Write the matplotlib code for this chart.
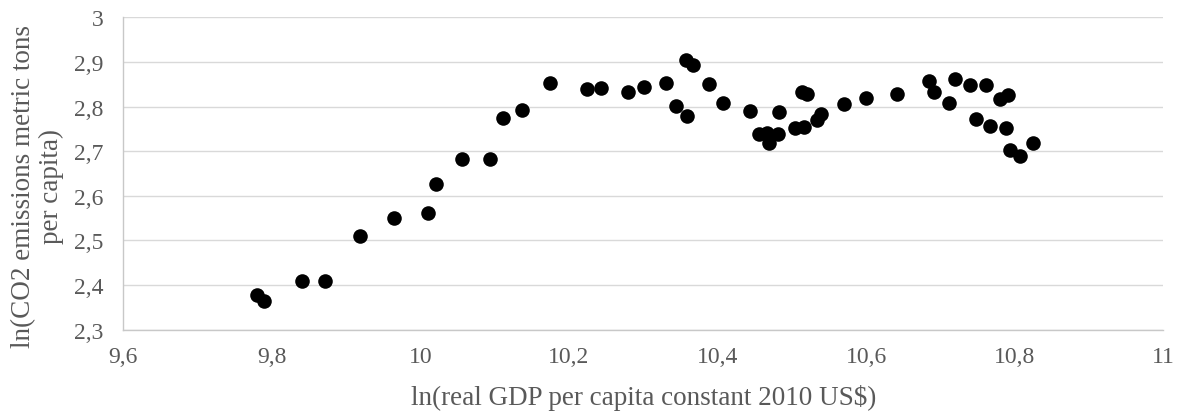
import matplotlib
matplotlib.use("Agg")
import matplotlib.pyplot as plt
from matplotlib.ticker import FuncFormatter, MultipleLocator

gdp = [9.780, 9.790, 9.8405, 9.872, 9.9186, 9.9648, 10.0106, 10.0205, 10.0563, 10.0936,
       10.1115, 10.1367, 10.174, 10.2238, 10.243, 10.2798, 10.3014, 10.3306, 10.344, 10.357,
       10.3665, 10.3592, 10.3884, 10.4073, 10.444, 10.4553, 10.466, 10.4696, 10.4817, 10.4826,
       10.5046, 10.5132, 10.520, 10.5167, 10.5333, 10.539, 10.5705, 10.600, 10.6419, 10.684,
       10.6908, 10.7114, 10.719, 10.740, 10.748, 10.761, 10.767, 10.7797, 10.791, 10.788,
       10.794, 10.807, 10.824]
co2 = [2.378, 2.3635, 2.410, 2.410, 2.511, 2.551, 2.561, 2.626, 2.683, 2.6825,
       2.775, 2.7915, 2.8535, 2.8386, 2.8416, 2.8333, 2.843, 2.852, 2.802, 2.905,
       2.894, 2.778, 2.8505, 2.808, 2.790, 2.739, 2.740, 2.718, 2.7385, 2.7885,
       2.752, 2.8326, 2.829, 2.755, 2.769, 2.784, 2.806, 2.820, 2.828, 2.8565,
       2.8326, 2.808, 2.8617, 2.849, 2.7714, 2.849, 2.756, 2.8162, 2.826, 2.751,
       2.7026, 2.690, 2.718]

x_label = "ln(real GDP per capita constant 2010 US$)"
y_label = "ln(CO2 emissions metric tons\nper capita)"

plt.rcParams['font.family'] = ['Liberation Serif', 'DejaVu Serif']

fig = plt.figure(figsize=(11.82, 4.14), dpi=100)
ax = fig.add_axes([0.1043, 0.2012, 0.8799, 0.7546])

ax.scatter(gdp, co2, s=110, color='black', zorder=3, linewidths=0)

ax.set_xlim(9.6, 11.0)
ax.set_ylim(2.3, 3.0)
ax.xaxis.set_major_locator(MultipleLocator(0.2))
ax.yaxis.set_major_locator(MultipleLocator(0.1))

def comma(v, pos):
    s = f"{v:.1f}"
    if s.endswith(".0"):
        s = s[:-2]
    return s.replace(".", ",")

ax.xaxis.set_major_formatter(FuncFormatter(comma))
ax.yaxis.set_major_formatter(FuncFormatter(comma))

ax.grid(axis='y', color='#d9d9d9', linewidth=1.0, zorder=0)
ax.set_axisbelow(True)
for side in ['top', 'right']:
    ax.spines[side].set_visible(False)
for side in ['left', 'bottom']:
    ax.spines[side].set_color('#c8c8c8')
    ax.spines[side].set_linewidth(1.0)

ax.tick_params(axis='both', length=0, labelsize=17, colors='#595959')
ax.tick_params(axis='y', pad=14)
ax.tick_params(axis='x', pad=12)
ax.set_xlabel(x_label, fontsize=19.5, color='#595959', labelpad=12)
ax.set_ylabel(y_label, fontsize=19.5, color='#595959', linespacing=1.15)
ax.yaxis.set_label_coords(-0.057, 0.46)

fig.savefig("out.png", dpi=100)
